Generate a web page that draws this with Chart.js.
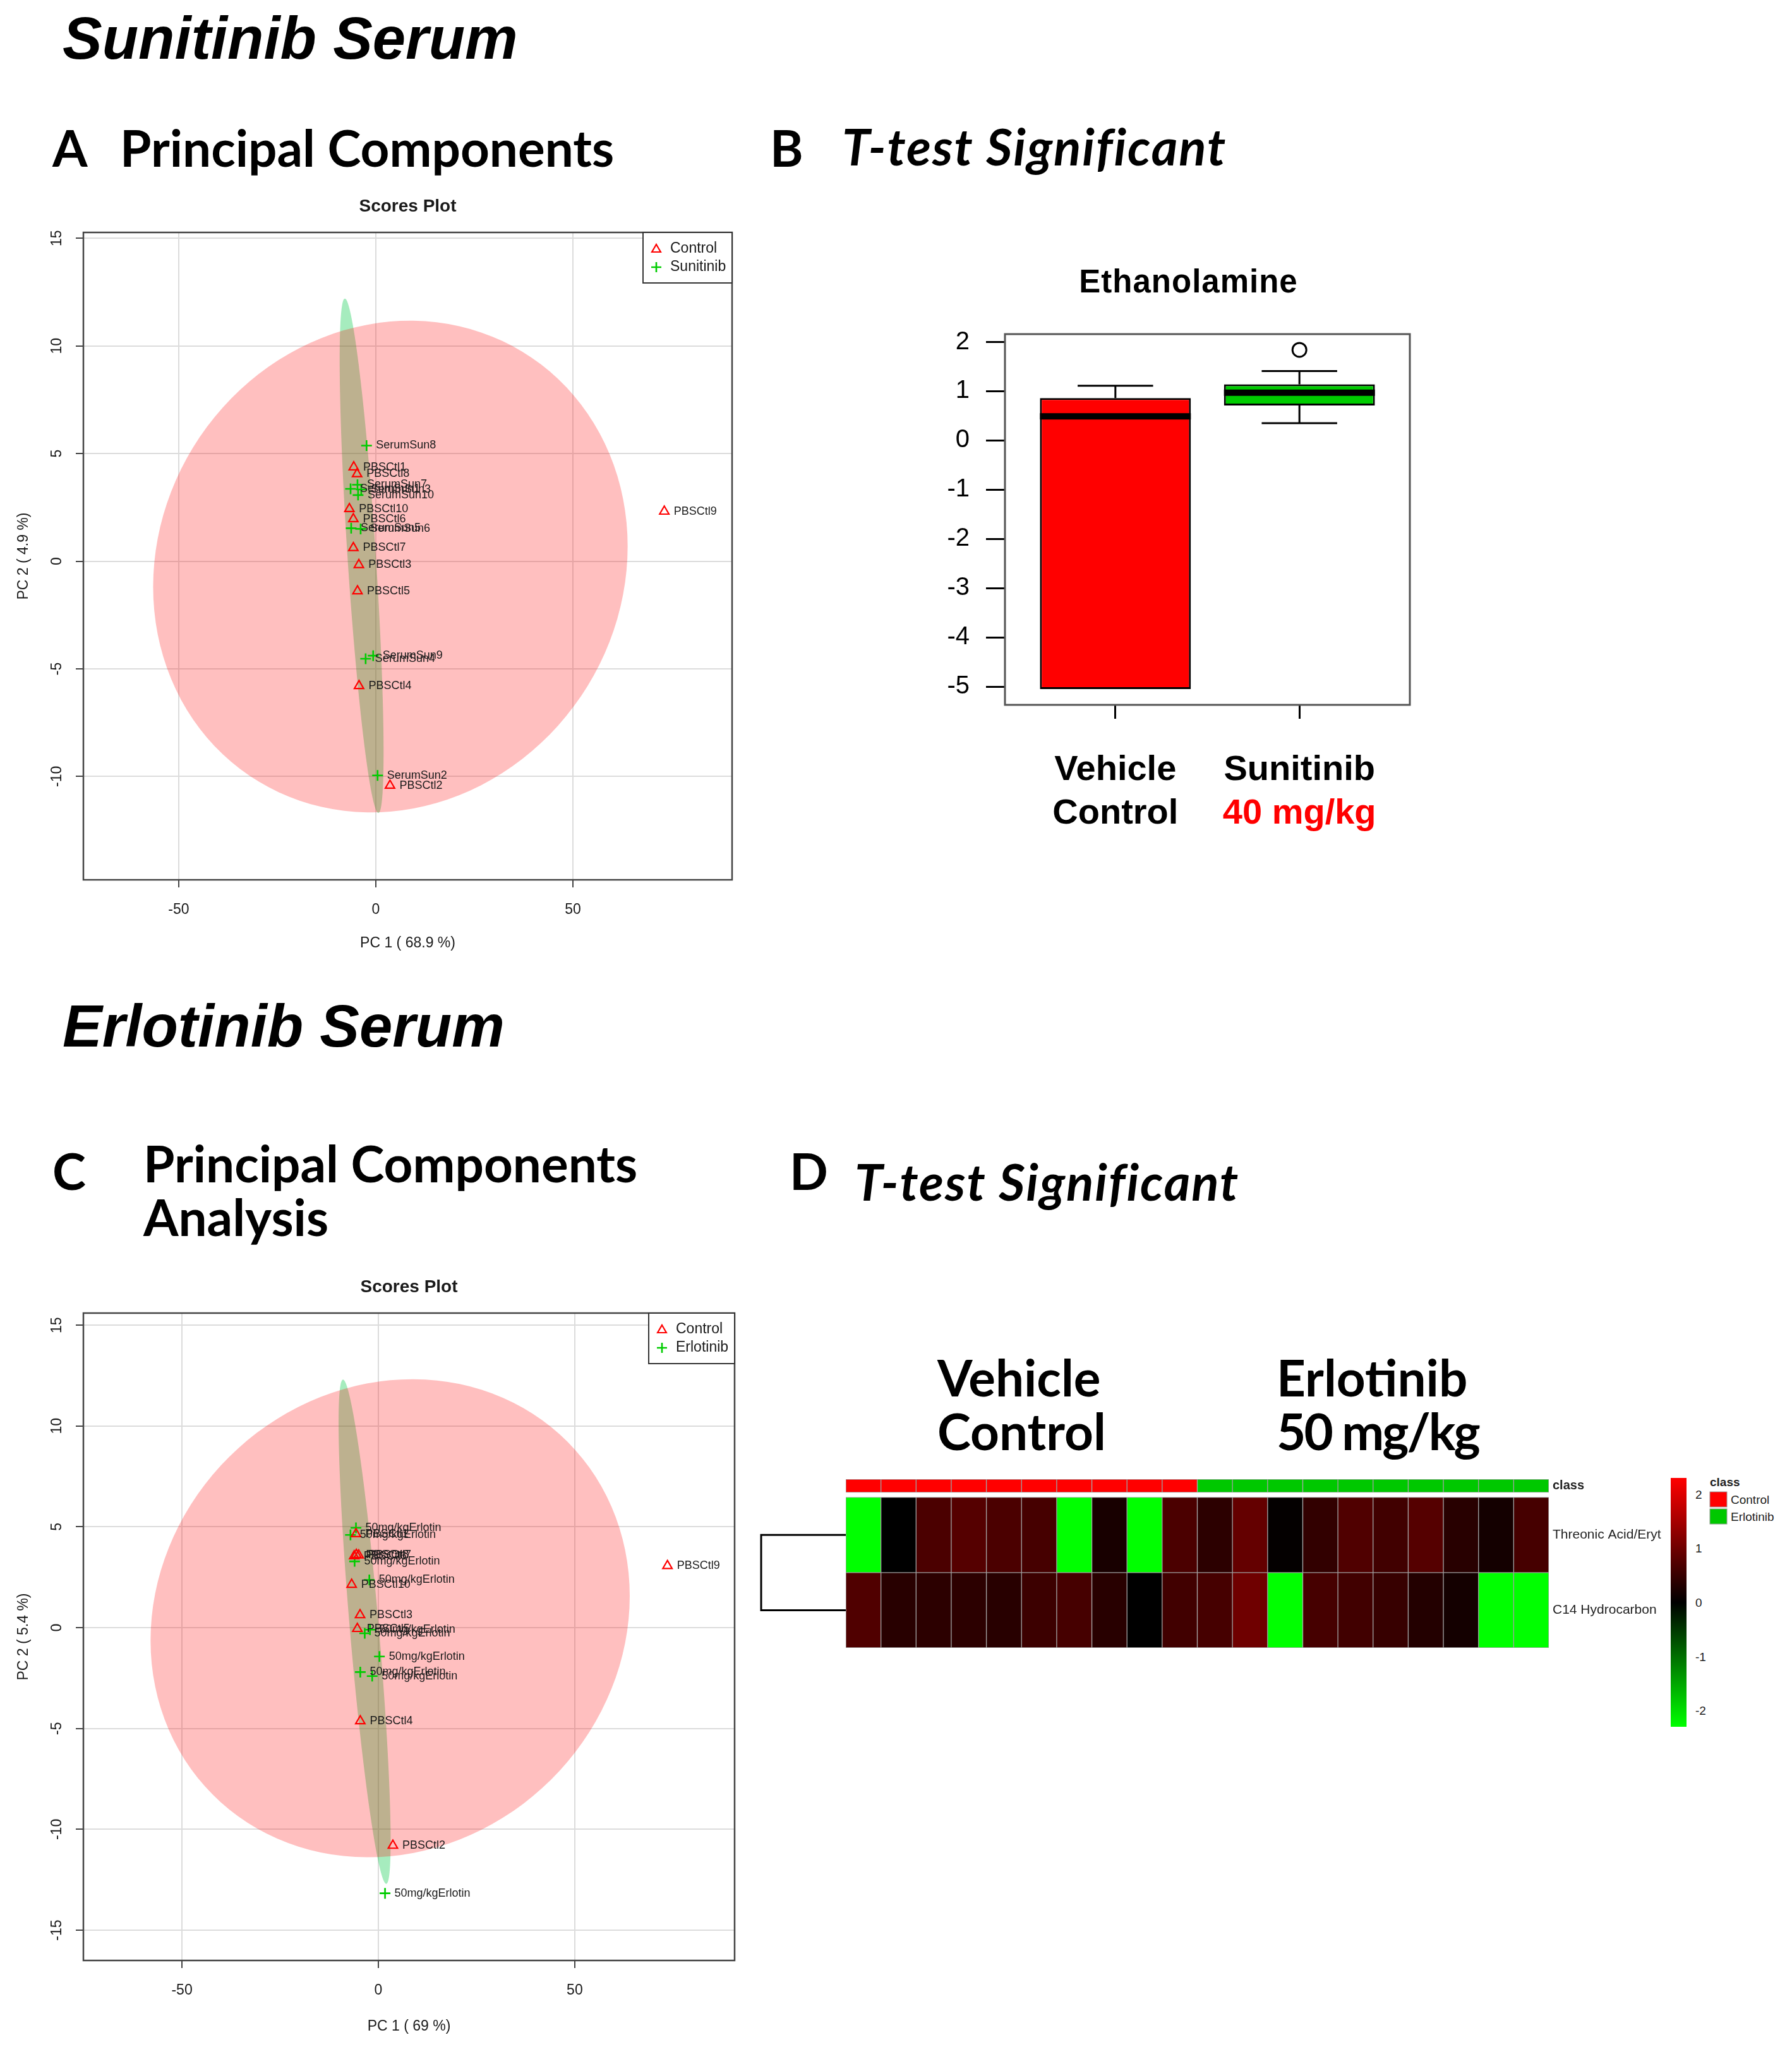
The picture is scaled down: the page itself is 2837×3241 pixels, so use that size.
<!DOCTYPE html>
<html>
<head>
<meta charset="utf-8">
<title>Sunitinib / Erlotinib serum</title>
<script src="https://cdn.jsdelivr.net/npm/chart.js@4.4.1/dist/chart.umd.min.js"></script>
<style>
  html, body { margin: 0; padding: 0; background: #fff; }
  #page { position: relative; width: 2837px; height: 3241px; overflow: hidden; background: #fff; }
  #page canvas, #page svg { position: absolute; }
  .head { font-family: Lato, "Open Sans", sans-serif; font-weight: bold; font-size: 80px; fill: #000; }
  .ital { font-style: italic; letter-spacing: 2px; }
  .big { font-family: "Liberation Sans", Arial, sans-serif; font-weight: bold; font-style: italic; font-size: 94px; fill: #000; }
</style>
</head>
<body>
<div id="page">
  <svg id="overlay" width="2837" height="3241" style="left:0px;top:0px">
    <defs>
      <linearGradient id="keyGrad" x1="0" y1="0" x2="0" y2="1">
        <stop offset="0" stop-color="#ff0000"/>
        <stop offset="0.5" stop-color="#000000"/>
        <stop offset="1" stop-color="#00ff00"/>
      </linearGradient>
    </defs>
    <text class="big" x="99" y="93">Sunitinib Serum</text>
    <text class="big" x="99" y="1657">Erlotinib Serum</text>

    <text class="head" x="83" y="264">A</text>
    <text class="head" x="190" y="264">Principal Components</text>
    <text class="head" x="1219" y="264">B</text>
    <text class="head ital" x="1333" y="262">T-test Significant</text>

    <text class="head" x="83" y="1884">C</text>
    <text class="head" x="227" y="1872">Principal Components</text>
    <text class="head" x="227" y="1957">Analysis</text>
    <text class="head" x="1250" y="1884">D</text>
    <text class="head ital" x="1353" y="1901">T-test Significant</text>

    <text class="head" x="1484" y="2211">Vehicle</text>
    <text class="head" x="1484" y="2296">Control</text>
    <text class="head" x="2021" y="2211">Erlotinib</text>
    <text class="head" x="2021" y="2296" letter-spacing="-3">50 mg/kg</text>

    <rect x="2645" y="2340" width="25" height="394" fill="url(#keyGrad)"/>
    <g id="keyTicks"></g>
    <g id="classKey"></g>
  </svg>
  <canvas id="pcaSun" width="1220" height="1260" style="left:0px;top:280px"></canvas>
  <canvas id="boxSun" width="1000" height="950" style="left:1400px;top:380px"></canvas>
  <canvas id="pcaErl" width="1220" height="1251" style="left:0px;top:1990px"></canvas>
  <canvas id="heatErl" width="1500" height="340" style="left:1150px;top:2300px"></canvas>
</div>

<script>
Chart.defaults.font.family = '"Liberation Sans", Arial, sans-serif';
Chart.defaults.color = '#222';

// ---------- Panel A: Sunitinib serum, PCA scores ----------
const sunCtlNames = ['PBSCtl1', 'PBSCtl8', 'PBSCtl10', 'PBSCtl6', 'PBSCtl7', 'PBSCtl3', 'PBSCtl5', 'PBSCtl4', 'PBSCtl2', 'PBSCtl9'];
const sunCtlPC1 = [-5.6, -4.75, -6.7, -5.7, -5.7, -4.3, -4.65, -4.26, 3.6, 73.2];
const sunCtlPC2 = [4.37, 4.05, 2.43, 1.96, 0.62, -0.17, -1.39, -5.79, -10.42, 2.31];
const sunTrtNames = ['SerumSun8', 'SerumSun7', 'SerumSun1', 'SerumSun3', 'SerumSun10', 'SerumSun5', 'SerumSun6', 'SerumSun9', 'SerumSun4', 'SerumSun2'];
const sunTrtPC1 = [-2.35, -4.65, -6.4, -3.7, -4.5, -6.25, -3.85, -0.67, -2.58, 0.45];
const sunTrtPC2 = [5.37, 3.55, 3.36, 3.33, 3.07, 1.53, 1.5, -4.39, -4.53, -9.95];
// confidence ellipses: centre PC1, PC2, then two conjugate semi-axes (PC1, PC2)
const sunCtlEllipse = [3.7, -0.25, 60.2, 0.94, 0, 11.38];
const sunTrtEllipse = [-3.6, 0.25, -4.25, 11.95, 3.6, 0];
const sunVariance = [68.9, 4.9];
const sunXRange = [-74.2, 90.4];
const sunYRange = [-14.8, 15.27];
const sunYTicks = [-10, -5, 0, 5, 10, 15];

// ---------- Panel B: Ethanolamine boxplot ----------
const boxGroups = ['Vehicle Control', 'Sunitinib 40 mg/kg'];
const boxLine1 = ['Vehicle', 'Sunitinib'];
const boxLine2 = ['Control', '40 mg/kg'];
const boxQ1 = [-5.05, 0.71];
const boxQ3 = [0.86, 1.14];
const boxMedian = [0.49, 0.97];
const boxWhiskerLow = [-5.05, 0.35];
const boxWhiskerHigh = [1.11, 1.41];
const boxOutliers = [null, 1.84];
const boxYTicks = [2, 1, 0, -1, -2, -3, -4, -5];

// ---------- Panel C: Erlotinib serum, PCA scores ----------
const erlCtlNames = ['PBSCtl1', 'PBSCtl6', 'PBSCtl7', 'PBSCtl8', 'PBSCtl10', 'PBSCtl3', 'PBSCtl5', 'PBSCtl4', 'PBSCtl2', 'PBSCtl9'];
const erlCtlPC1 = [-5.7, -6.15, -5.0, -5.6, -6.8, -4.66, -5.35, -4.6, 3.7, 73.6];
const erlCtlPC2 = [4.65, 3.55, 3.59, 3.62, 2.14, 0.63, -0.05, -4.63, -10.8, 3.07];
const erlTrtNames = ['50mg/kgErlotin', '50mg/kgErlotin', '50mg/kgErlotin', '50mg/kgErlotin', '50mg/kgErlotin',
                     '50mg/kgErlotin', '50mg/kgErlotin', '50mg/kgErlotin', '50mg/kgErlotin', '50mg/kgErlotin'];
const erlTrtPC1 = [-5.7, -7.1, -6.05, -2.3, -3.47, -2.14, 0.27, -4.6, -1.57, 1.7];
const erlTrtPC2 = [4.95, 4.6, 3.29, 2.37, -0.28, -0.1, -1.43, -2.2, -2.4, -13.17];
const erlCtlEllipse = [3.0, 0.47, 61, 1.1, 0, 11.8];
const erlTrtEllipse = [-3.5, -0.2, -5.5, 12.5, 3.7, 0];
const erlVariance = [69, 5.4];
const erlXRange = [-75.1, 90.7];
const erlYRange = [-16.5, 15.6];
const erlYTicks = [-15, -10, -5, 0, 5, 10, 15];

const pcaXTicks = [-50, 0, 50];

// ---------- Panel D: heatmap of t-test hits ----------
const heatSamples = ['Ctl1', 'Ctl2', 'Ctl3', 'Ctl4', 'Ctl5', 'Ctl6', 'Ctl7', 'Ctl8', 'Ctl9', 'Ctl10',
                     'Erl1', 'Erl2', 'Erl3', 'Erl4', 'Erl5', 'Erl6', 'Erl7', 'Erl8', 'Erl9', 'Erl10'];
const heatClass = ['Control', 'Control', 'Control', 'Control', 'Control', 'Control', 'Control', 'Control', 'Control', 'Control',
                   'Erlotinib', 'Erlotinib', 'Erlotinib', 'Erlotinib', 'Erlotinib', 'Erlotinib', 'Erlotinib', 'Erlotinib', 'Erlotinib', 'Erlotinib'];
const heatRows = ['Threonic Acid/Eryt', 'C14 Hydrocarbon'];
const threonicValues = [-2.3, 0.0, 0.68, 0.77, 0.68, 0.63, -2.3, 0.22, -2.3, 0.68,
                        0.4, 0.9, 0.04, 0.45, 0.72, 0.59, 0.77, 0.36, 0.18, 0.63];
const c14Values = [0.72, 0.36, 0.4, 0.4, 0.36, 0.54, 0.63, 0.36, 0.0, 0.59,
                   0.63, 1.0, -2.3, 0.63, 0.59, 0.5, 0.32, 0.18, -2.3, -2.3];
const classNames = ['Control', 'Erlotinib'];
const classColors = ['#ff0000', '#00c800'];
const keyTicks = [2, 1, 0, -1, -2];
const keyLimit = 2.3;

// colour scale of the heatmap: green - black - red
function heatColor(v) {
    const t = Math.min(1, Math.abs(v) / keyLimit);
    const c = Math.round(255 * t);
    return v >= 0 ? `rgb(${c},0,0)` : `rgb(0,${c},0)`;
}

// path of an ellipse given in data units, drawn through the chart's scales
function ellipsePath(ctx, xs, ys, e) {
    const cx = xs.getPixelForValue(e[0]), cy = ys.getPixelForValue(e[1]);
    const ax = xs.getPixelForValue(e[0] + e[2]) - cx, ay = ys.getPixelForValue(e[1] + e[3]) - cy;
    const bx = xs.getPixelForValue(e[0] + e[4]) - cx, by = ys.getPixelForValue(e[1] + e[5]) - cy;
    ctx.save();
    ctx.transform(ax, ay, bx, by, cx, cy);
    ctx.beginPath();
    ctx.arc(0, 0, 1, 0, Math.PI * 2);
    ctx.restore();
}

function drawTriangle(ctx, x, y, r) {
    ctx.beginPath();
    ctx.moveTo(x, y - r);
    ctx.lineTo(x + r * 0.866, y + r * 0.5);
    ctx.lineTo(x - r * 0.866, y + r * 0.5);
    ctx.closePath();
    ctx.stroke();
}

function drawPlus(ctx, x, y, r) {
    ctx.beginPath();
    ctx.moveTo(x - r, y); ctx.lineTo(x + r, y);
    ctx.moveTo(x, y - r); ctx.lineTo(x, y + r);
    ctx.stroke();
}

// R-style scores plot
function makeScores(canvasId, cfg) {
    const plugin = {
        id: 'scores_' + canvasId,
        beforeDatasetsDraw(chart) {
            const { ctx, chartArea: a, scales: { x, y } } = chart;
            ctx.save();
            ctx.beginPath();
            ctx.rect(a.left, a.top, a.width, a.height);
            ctx.clip();
            ellipsePath(ctx, x, y, cfg.trtEllipse);
            ctx.fillStyle = 'rgba(0,200,70,0.35)';
            ctx.fill();
            ellipsePath(ctx, x, y, cfg.ctlEllipse);
            ctx.fillStyle = 'rgba(255,0,0,0.25)';
            ctx.fill();
            ctx.restore();
        },
        afterDatasetsDraw(chart) {
            const ctx = chart.ctx;
            ctx.save();
            ctx.font = '18px "Liberation Sans", Arial';
            ctx.fillStyle = '#1a1a1a';
            ctx.textBaseline = 'middle';
            ctx.textAlign = 'left';
            chart.data.datasets.forEach((ds, di) => {
                chart.getDatasetMeta(di).data.forEach((pt, i) => {
                    ctx.fillText(ds.names[i], pt.x + 15, pt.y);
                });
            });
            ctx.restore();
        },
        afterDraw(chart) {
            const { ctx, chartArea: a, scales: { y } } = chart;
            ctx.save();
            // plot frame
            ctx.strokeStyle = '#444';
            ctx.lineWidth = 2.5;
            ctx.strokeRect(a.left, a.top, a.width, a.height);

            // legend box, top right
            const bw = cfg.legendW, bh = 80, lx = a.right - bw, ly = a.top;
            ctx.fillStyle = '#fff';
            ctx.fillRect(lx, ly, bw, bh);
            ctx.strokeStyle = '#333';
            ctx.lineWidth = 2;
            ctx.strokeRect(lx, ly, bw, bh);
            ctx.lineWidth = 2.2;
            ctx.strokeStyle = '#ff0000';
            drawTriangle(ctx, lx + 21, ly + 27, 8);
            ctx.strokeStyle = '#00cc00';
            ctx.lineWidth = 2.6;
            drawPlus(ctx, lx + 21, ly + 55, 8);
            ctx.fillStyle = '#1a1a1a';
            ctx.font = '23px "Liberation Sans", Arial';
            ctx.textBaseline = 'middle';
            ctx.fillText('Control', lx + 43, ly + 26);
            ctx.fillText(cfg.trtLabel, lx + 43, ly + 55);

            // rotated y tick labels
            ctx.textAlign = 'center';
            cfg.yTicks.forEach(v => {
                ctx.save();
                ctx.translate(91, y.getPixelForValue(v));
                ctx.rotate(-Math.PI / 2);
                ctx.fillText(String(v), 0, 0);
                ctx.restore();
            });

            // axis titles and plot title
            const mid = (a.left + a.right) / 2;
            ctx.textBaseline = 'alphabetic';
            ctx.fillText(`PC 1 ( ${cfg.variance[0]} %)`, mid, cfg.xTitleY);
            ctx.save();
            ctx.translate(44, (a.top + a.bottom) / 2);
            ctx.rotate(-Math.PI / 2);
            ctx.fillText(`PC 2 ( ${cfg.variance[1]} %)`, 0, 0);
            ctx.restore();
            ctx.font = 'bold 28px "Liberation Sans", Arial';
            ctx.fillText('Scores Plot', mid, a.top - 33);
            ctx.restore();
        }
    };

    return new Chart(document.getElementById(canvasId), {
        type: 'scatter',
        data: {
            datasets: [{
                label: 'Control',
                names: cfg.ctlNames,
                data: cfg.ctlX.map((v, i) => ({ x: v, y: cfg.ctlY[i] })),
                pointStyle: 'triangle',
                pointRadius: 8.5,
                pointBorderWidth: 2.2,
                pointBorderColor: '#ff0000',
                pointBackgroundColor: 'rgba(0,0,0,0)'
            }, {
                label: cfg.trtLabel,
                names: cfg.trtNames,
                data: cfg.trtX.map((v, i) => ({ x: v, y: cfg.trtY[i] })),
                pointStyle: 'cross',
                pointRadius: 8.5,
                pointBorderWidth: 2.6,
                pointBorderColor: '#00cc00',
                pointBackgroundColor: 'rgba(0,0,0,0)'
            }]
        },
        options: {
            responsive: false,
            animation: false,
            events: [],
            layout: { padding: { top: cfg.padTop, right: cfg.padRight, left: 0, bottom: 0 } },
            plugins: { legend: { display: false }, tooltip: { enabled: false } },
            scales: {
                x: {
                    type: 'linear',
                    min: cfg.xRange[0],
                    max: cfg.xRange[1],
                    afterBuildTicks: s => { s.ticks = pcaXTicks.map(v => ({ value: v })); },
                    afterFit: s => { s.height = cfg.xAxisH; },
                    border: { display: false },
                    grid: { color: '#dcdcdc', lineWidth: 2, tickColor: '#444', tickLength: 12, tickWidth: 2 },
                    ticks: { font: { size: 23 }, color: '#1a1a1a', padding: 22, maxRotation: 0 }
                },
                y: {
                    type: 'linear',
                    min: cfg.yRange[0],
                    max: cfg.yRange[1],
                    afterBuildTicks: s => { s.ticks = cfg.yTicks.map(v => ({ value: v })); },
                    afterFit: s => { s.width = 132; },
                    border: { display: false },
                    grid: { color: '#dcdcdc', lineWidth: 2, tickColor: '#444', tickLength: 12, tickWidth: 2 },
                    ticks: { display: false }
                }
            }
        },
        plugins: [plugin]
    });
}

makeScores('pcaSun', {
    ctlNames: sunCtlNames, ctlX: sunCtlPC1, ctlY: sunCtlPC2,
    trtNames: sunTrtNames, trtX: sunTrtPC1, trtY: sunTrtPC2,
    ctlEllipse: sunCtlEllipse, trtEllipse: sunTrtEllipse,
    trtLabel: 'Sunitinib', variance: sunVariance,
    xRange: sunXRange, yRange: sunYRange, yTicks: sunYTicks,
    padTop: 88, padRight: 61, xAxisH: 147, xTitleY: 1220, legendW: 141
});

makeScores('pcaErl', {
    ctlNames: erlCtlNames, ctlX: erlCtlPC1, ctlY: erlCtlPC2,
    trtNames: erlTrtNames, trtX: erlTrtPC1, trtY: erlTrtPC2,
    ctlEllipse: erlCtlEllipse, trtEllipse: erlTrtEllipse,
    trtLabel: 'Erlotinib', variance: erlVariance,
    xRange: erlXRange, yRange: erlYRange, yTicks: erlYTicks,
    padTop: 89, padRight: 57, xAxisH: 137, xTitleY: 1225, legendW: 136
});

// ---------- Panel B chart ----------
// groups sit at positions 1 and 2 of a numeric axis, as in R's boxplot()
const boxPlugin = {
    id: 'boxParts',
    afterDatasetsDraw(chart) {
        const { ctx, scales: { x, y } } = chart;
        const bars = chart.getDatasetMeta(0).data;
        ctx.save();
        ctx.strokeStyle = '#000';
        ctx.fillStyle = '#000';
        ctx.lineWidth = 3;
        boxGroups.forEach((g, i) => {
            const cx = x.getPixelForValue(i + 1);
            const w = bars[i].width;
            // median bar
            const ym = y.getPixelForValue(boxMedian[i]);
            ctx.fillRect(cx - w / 2, ym - 5, w, 10);
            // whiskers
            const parts = [[boxQ3[i], boxWhiskerHigh[i]], [boxQ1[i], boxWhiskerLow[i]]];
            parts.forEach(([from, to]) => {
                if (from === to) return;
                const y0 = y.getPixelForValue(from), y1 = y.getPixelForValue(to);
                ctx.beginPath();
                ctx.moveTo(cx, y0); ctx.lineTo(cx, y1);
                ctx.moveTo(cx - w / 4, y1); ctx.lineTo(cx + w / 4, y1);
                ctx.stroke();
            });
        });
        ctx.restore();
    },
    afterDraw(chart) {
        const { ctx, chartArea: a, scales: { x } } = chart;
        ctx.save();
        ctx.strokeStyle = '#555';
        ctx.lineWidth = 3;
        ctx.strokeRect(a.left, a.top, a.width, a.height);
        ctx.textAlign = 'center';
        ctx.fillStyle = '#000';
        ctx.font = 'bold 51px "Liberation Sans", Arial';
        ctx.letterSpacing = '1px';
        ctx.fillText('Ethanolamine', (a.left + a.right) / 2 - 30, a.top - 66);
        ctx.letterSpacing = '0px';
        ctx.font = 'bold 56px "Liberation Sans", Arial';
        boxGroups.forEach((g, i) => {
            const cx = x.getPixelForValue(i + 1);
            ctx.fillStyle = '#000';
            ctx.fillText(boxLine1[i], cx, a.bottom + 119);
            ctx.fillStyle = i === 1 ? '#ff0000' : '#000';
            ctx.fillText(boxLine2[i], cx, a.bottom + 188);
        });
        ctx.restore();
    }
};

new Chart(document.getElementById('boxSun'), {
    type: 'bar',
    data: {
        datasets: [{
            data: boxQ1.map((q, i) => ({ x: i + 1, y: [q, boxQ3[i]] })),
            backgroundColor: ['#ff0000', '#00cc00'],
            borderColor: '#000',
            borderWidth: 3,
            borderSkipped: false,
            barPercentage: 0.82,
            categoryPercentage: 1
        }, {
            type: 'line',
            data: boxOutliers.map((v, i) => ({ x: i + 1, y: v })),
            showLine: false,
            pointStyle: 'circle',
            pointRadius: 11,
            pointBorderWidth: 3,
            pointBorderColor: '#000',
            pointBackgroundColor: 'rgba(0,0,0,0)'
        }]
    },
    options: {
        responsive: false,
        animation: false,
        events: [],
        layout: { padding: { top: 149, right: 168, left: 0, bottom: 0 } },
        plugins: { legend: { display: false }, tooltip: { enabled: false } },
        scales: {
            x: {
                type: 'linear',
                min: 0.4,
                max: 2.6,
                offset: false,
                afterBuildTicks: s => { s.ticks = boxGroups.map((g, i) => ({ value: i + 1 })); },
                afterFit: s => { s.height = 214; },
                border: { display: false },
                grid: { offset: false, drawOnChartArea: false, tickColor: '#000', tickLength: 22, tickWidth: 3 },
                ticks: { display: false }
            },
            y: {
                min: -5.37,
                max: 2.16,
                afterBuildTicks: s => { s.ticks = boxYTicks.map(v => ({ value: v })); },
                afterFit: s => { s.width = 191; },
                border: { display: false },
                grid: { drawOnChartArea: false, tickColor: '#000', tickLength: 30, tickWidth: 3 },
                ticks: { font: { size: 40 }, color: '#000', padding: 26 }
            }
        }
    },
    plugins: [boxPlugin]
});

// ---------- Panel D chart ----------
const heatPlugin = {
    id: 'heatParts',
    afterDraw(chart) {
        const { ctx, chartArea: a, scales: { y } } = chart;
        ctx.save();
        ctx.fillStyle = '#222';
        ctx.textBaseline = 'middle';
        ctx.font = '21px "Liberation Sans", Arial';
        ctx.fillText(heatRows[0], a.right + 6, y.getPixelForValue(1.5));
        ctx.fillText(heatRows[1], a.right + 6, y.getPixelForValue(0.5));
        ctx.font = 'bold 20px "Liberation Sans", Arial';
        ctx.fillText('class', a.right + 6, y.getPixelForValue(2.15));
        // row dendrogram
        const y1 = y.getPixelForValue(1.5), y2 = y.getPixelForValue(0.5);
        ctx.strokeStyle = '#000';
        ctx.lineWidth = 3;
        ctx.beginPath();
        ctx.moveTo(a.left, y1); ctx.lineTo(55, y1); ctx.lineTo(55, y2); ctx.lineTo(a.left, y2);
        ctx.stroke();
        ctx.restore();
    }
};

const heatCell = { grouped: false, barPercentage: 1, categoryPercentage: 1, borderColor: '#a0a0a0', borderWidth: 1, borderSkipped: false };

new Chart(document.getElementById('heatErl'), {
    type: 'bar',
    data: {
        labels: heatSamples,
        datasets: [
            Object.assign({ data: heatSamples.map(() => [2.065, 2.24]), backgroundColor: heatClass.map(c => classColors[classNames.indexOf(c)]) }, heatCell),
            Object.assign({ data: heatSamples.map(() => [1, 2]), backgroundColor: threonicValues.map(heatColor) }, heatCell),
            Object.assign({ data: heatSamples.map(() => [0, 1]), backgroundColor: c14Values.map(heatColor) }, heatCell)
        ]
    },
    options: {
        responsive: false,
        animation: false,
        events: [],
        layout: { padding: { left: 189, right: 198, top: 42, bottom: 31 } },
        plugins: { legend: { display: false }, tooltip: { enabled: false } },
        scales: {
            x: { display: false },
            y: { display: false, min: 0, max: 2.24 }
        }
    },
    plugins: [heatPlugin]
});

// ---------- colour key and class legend of panel D ----------
const NS = 'http://www.w3.org/2000/svg';
function svgText(parent, txt, x, y, size, weight) {
    const t = document.createElementNS(NS, 'text');
    t.setAttribute('x', x);
    t.setAttribute('y', y);
    t.setAttribute('font-family', 'Liberation Sans, Arial, sans-serif');
    t.setAttribute('font-size', size);
    if (weight) t.setAttribute('font-weight', weight);
    t.setAttribute('fill', '#222');
    t.textContent = txt;
    parent.appendChild(t);
}
const keyG = document.getElementById('keyTicks');
keyTicks.forEach(v => {
    const yy = 2340 + (keyLimit - v) / (2 * keyLimit) * 394;
    svgText(keyG, String(v), 2684, yy + 7, 19);
});
const classG = document.getElementById('classKey');
svgText(classG, 'class', 2707, 2353, 19, 'bold');
classNames.forEach((c, i) => {
    const r = document.createElementNS(NS, 'rect');
    r.setAttribute('x', 2707);
    r.setAttribute('y', 2362 + i * 27);
    r.setAttribute('width', 27);
    r.setAttribute('height', 24);
    r.setAttribute('fill', classColors[i]);
    r.setAttribute('stroke', '#999');
    classG.appendChild(r);
    svgText(classG, c, 2740, 2381 + i * 27, 19);
});
</script>
</body>
</html>
